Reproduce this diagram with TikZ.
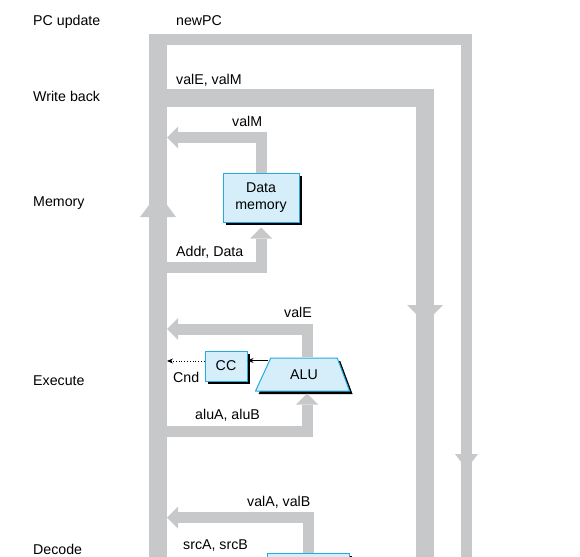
\documentclass[tikz,border=0pt]{standalone}
\usepackage{fontspec}
\setmainfont{Liberation Sans}
\usetikzlibrary{arrows.meta,shapes.geometric,shadows}

\newlength{\du}
\setlength{\du}{1pt}

\definecolor{busgray}{RGB}{199,200,202}
\definecolor{unitfill}{RGB}{214,238,250}
\definecolor{unitline}{RGB}{39,170,225}

\tikzset{
  stagetext/.style={anchor=base west, inner sep=0pt, font=\fontsize{14.2}{16.5}\selectfont},
  unit/.style={draw=unitline, fill=unitfill, line width=1\du, inner sep=0pt,
    align=center, font=\fontsize{14.2}{16.5}\selectfont,
    drop shadow={shadow xshift=3\du, shadow yshift=-3\du, fill=black, opacity=1}},
  bus/.style={draw=busgray, line width=11\du, line join=miter, line cap=butt},
  widebus/.style={bus, line width=18\du},
  bushead/.style={-{Triangle[length=11pt, width=22pt, line width=0pt]}},
  sig/.style={draw=black, line width=0.8\du, -{Stealth[length=6pt, width=5pt]}},
}

\begin{document}
\begin{tikzpicture}[x=1\du, y=-1\du]
\useasboundingbox (0,0) rectangle (580,556);
\clip (0,0) rectangle (580,556);

% stage names
\node[stagetext] (pcup) at (33,26) {PC update};
\node[stagetext] (wbk) at (33,101.5) {Write back};
\node[stagetext] (mem) at (33,206.5) {Memory};
\node[stagetext] (exe) at (33,385.5) {Execute};
\node[stagetext] (dec) at (33,554) {Decode};

% trunk and feedback buses
\coordinate (trunktop) at (158,34);
\coordinate (trunkbot) at (158,570);
\draw[widebus] (trunkbot) -- (trunktop);
\draw[bus] (158,39.5) -- (466.5,39.5) -- (466.5,570);
\draw[widebus] (158,98.5) -- (425,98.5) -- (425,570);
% arrow heads sitting on the buses
\fill[busgray] (140,217) -- (176,217) -- (158,193) -- cycle;
\fill[busgray] (407,305) -- (443,305) -- (425,323) -- cycle;
\fill[busgray] (455,454) -- (478,454) -- (466.5,469) -- cycle;

% units
\node[unit, minimum width=76\du, minimum height=49\du] (dmem) at (261,197.5) {Data\\memory};
\node[unit, minimum width=42\du, minimum height=30\du] (cc) at (226,366) {CC};
\node[unit, trapezium, trapezium stretches=true, trapezium left angle=57.5,
  trapezium right angle=62.7, minimum width=94\du, minimum height=33\du] (alu) at (304,374.5) {ALU};
\node[unit, drop shadow={opacity=0}, minimum width=82\du, minimum height=40\du] (regfile) at (308,573) {};

% memory stage
\coordinate (memin) at (158,267);
\coordinate (memout) at (167,137.5);
\draw[bus, bushead] (memin) -- (memin -| dmem.north) -- ([yshift=-5\du]dmem.south);
\draw[bus, bushead] (dmem.north) -- (dmem.north |- memout) -- (memout);

% execute stage
\coordinate (exein) at (158,431);
\coordinate (exeout) at (167,329);
\coordinate (aluin) at ([xshift=3\du,yshift=-2\du]alu.south);
\coordinate (alutop) at ([xshift=3\du]alu.north);
\draw[bus, bushead] (exein) -- (exein -| aluin) -- (aluin);
\draw[bus, bushead] (alutop) -- (alutop |- exeout) -- (exeout);
\coordinate (aluout) at ([xshift=-2\du,yshift=-3\du]alu.top left corner);
\coordinate (cnd) at (167,361);
\draw[sig] (aluout) -- (aluout -| cc.east);
\draw[sig, dotted] (cnd -| cc.west) -- (cnd);

% decode stage
\coordinate (decout) at (167,517.5);
\draw[bus, bushead] (regfile.north) -- (regfile.north |- decout) -- (decout);

% bus names
\node[stagetext] (newpc) at (176,26) {newPC};
\node[stagetext] (valevalm) at (176,85) {valE, valM};
\node[stagetext] (valm) at (232,127) {valM};
\node[stagetext] (addrdata) at (176,256) {Addr, Data};
\node[stagetext] (vale) at (284,317) {valE};
\node[stagetext] (cndtext) at (173,382) {Cnd};
\node[stagetext] (alua) at (195,419) {aluA, aluB};
\node[stagetext] (vala) at (247,506) {valA, valB};
\node[stagetext] (srca) at (183,549) {srcA, srcB};
\end{tikzpicture}
\end{document}
